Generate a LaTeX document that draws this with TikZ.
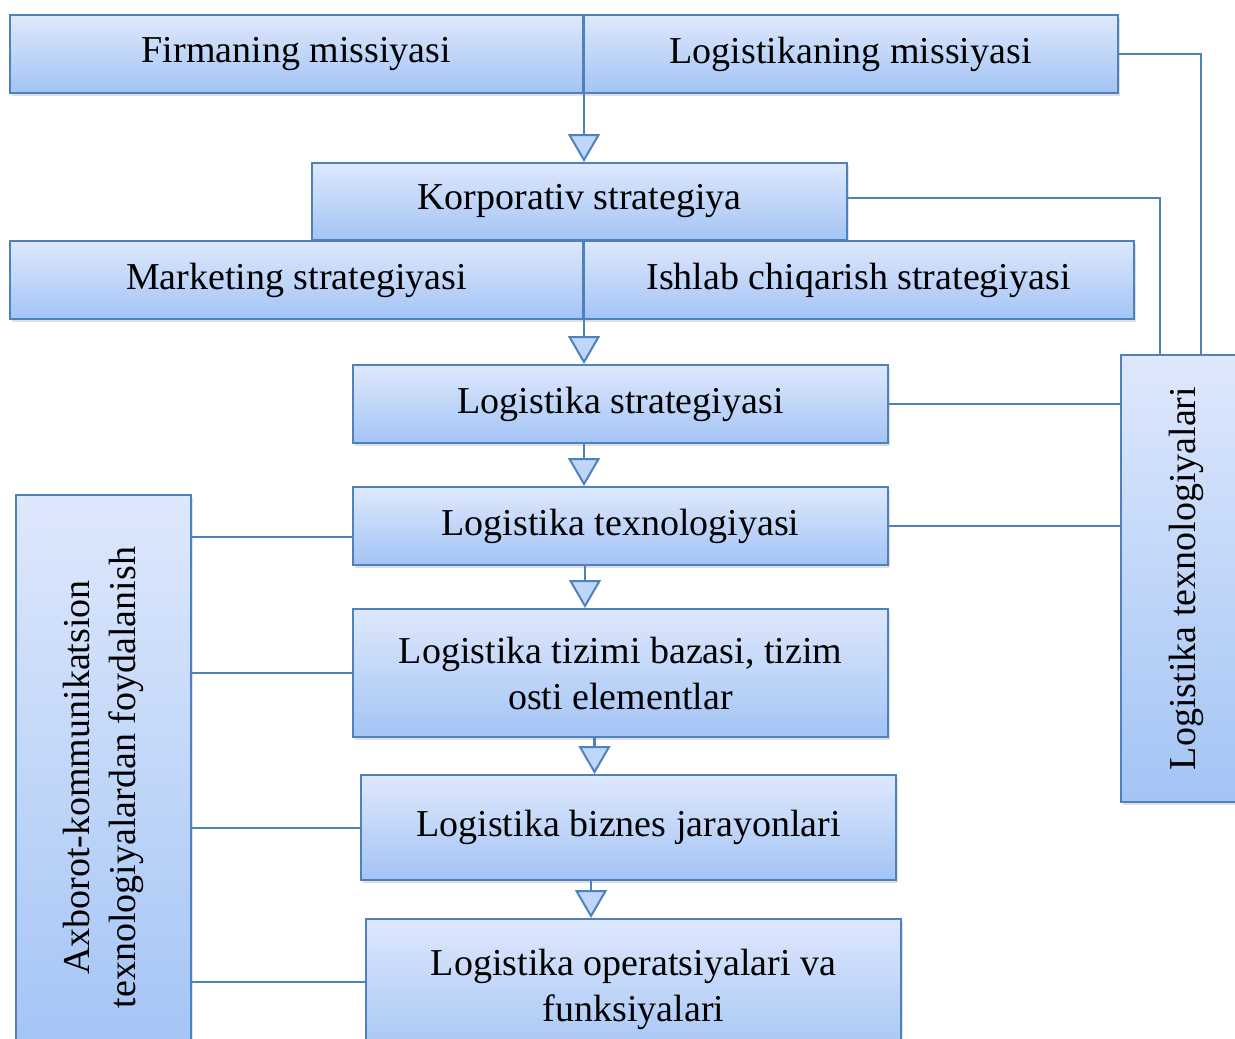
\documentclass[tikz,border=0pt]{standalone}
\usepackage{fontspec}
\setmainfont{Liberation Serif}
\usetikzlibrary{arrows.meta,shadows}

\definecolor{boxline}{RGB}{79,129,189}
\definecolor{boxtop}{RGB}{222,232,252}
\definecolor{boxbot}{RGB}{163,196,245}

\begin{document}
\begin{tikzpicture}[x=0.5pt,y=-0.5pt,line width=1pt,draw=boxline,
  font=\fontsize{19}{23}\selectfont]
\tikzstyle{blok}=[rectangle,draw=boxline,top color=boxtop,bottom color=boxbot,
  text=black,inner sep=2pt,align=center,
  drop shadow={shadow xshift=1pt,shadow yshift=-1.5pt,opacity=0.25}]
\tikzstyle{oqim}=[boxline,line width=1.2pt,
  -{Triangle[width=16pt,length=14pt,fill=boxbot!70!white,line width=1pt]}]
\tikzstyle{ulash}=[boxline,line width=1pt]
\useasboundingbox (0,0) rectangle (1235,1038);
\clip (0,0) rectangle (1235,1038);
% side boxes
\node[blok,rotate=90,minimum width=282.5pt,minimum height=87.5pt] (axb) at (103.5,777.5)
  {Axborot-kommunikatsion\\texnologiyalardan foydalanish};
\node[blok,rotate=90,minimum width=223.5pt,minimum height=65pt] (ltexr) at (1186,578.5)
  {Logistika texnologiyalari};
% main column
\node[blok,minimum width=286.5pt,minimum height=39pt] (firm) at (296.5,54) {Firmaning missiyasi};
\node[blok,minimum width=267.5pt,minimum height=39pt] (logm) at (850.5,54) {Logistikaning missiyasi};
\node[blok,minimum width=267.5pt,minimum height=38.5pt] (korp) at (579.5,201.5) {Korporativ strategiya};
\node[blok,minimum width=286.5pt,minimum height=39pt] (mark) at (296.5,280) {Marketing strategiyasi};
\node[blok,minimum width=275.5pt,minimum height=39pt] (ishlab) at (858.5,280) {Ishlab chiqarish strategiyasi};
\node[blok,minimum width=267.5pt,minimum height=39pt] (lstrat) at (620.5,404) {Logistika strategiyasi};
\node[blok,minimum width=267.5pt,minimum height=39pt] (ltex) at (620.5,526) {Logistika texnologiyasi};
\node[blok,minimum width=267.5pt,minimum height=64pt] (ltiz) at (620.5,673)
  {Logistika tizimi bazasi, tizim\\osti elementlar};
\node[blok,minimum width=267.5pt,minimum height=52.5pt] (lbiz) at (628.5,827.5) {Logistika biznes jarayonlari};
\node[blok,minimum width=267.5pt,minimum height=70.5pt] (lop) at (633.5,989.5)
  {Logistika operatsiyalari va\\funksiyalari};
% arrows down
\draw[oqim] (firm.north east) -- (firm.north east |- korp.north);
\draw[oqim] (mark.north east) -- (mark.north east |- lstrat.north);
\draw[oqim] (mark.north east |- lstrat.south) -- (mark.north east |- ltex.north);
\draw[oqim] ([xshift=0.5pt]mark.north east |- ltex.south) -- ([xshift=0.5pt]mark.north east |- ltiz.north);
\draw[oqim] ([xshift=-13pt]ltiz.south) -- ([xshift=-13pt]ltiz.south |- lbiz.north);
\draw[oqim] ([xshift=-18.75pt]lbiz.south) -- ([xshift=-18.75pt]lbiz.south |- lop.north);
% right links (ltexr is turned, so its east anchor is its top side)
\draw[ulash] (logm.east) -| ([xshift=7.5pt]ltexr.east);
\draw[ulash] ([yshift=2pt]korp.east) -| ([xshift=-13pt]ltexr.east);
\draw[ulash] (lstrat.east) -- (lstrat.east -| ltexr.north);
\draw[ulash] (ltex.east) -- (ltex.east -| ltexr.north);
% left links
\draw[ulash] ([yshift=-5.5pt]ltex.west) -- ([yshift=-5.5pt]ltex.west -| axb.south);
\draw[ulash] (ltiz.west) -- (ltiz.west -| axb.south);
\draw[ulash] (lbiz.west) -- (lbiz.west -| axb.south);
\draw[ulash] ([yshift=4pt]lop.west) -- ([yshift=4pt]lop.west -| axb.south);
\end{tikzpicture}
\end{document}
